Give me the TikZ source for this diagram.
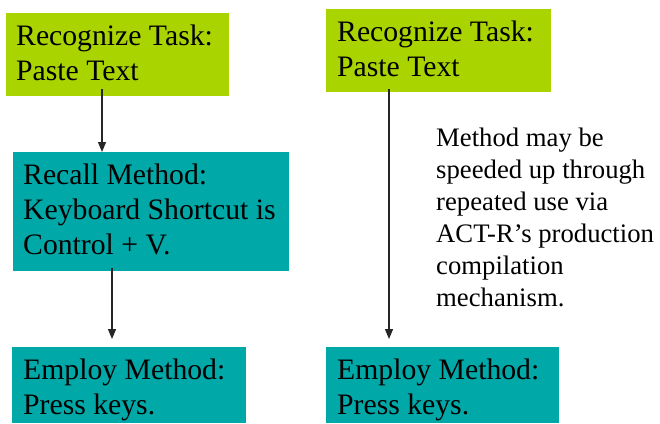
\documentclass[tikz,border=0pt]{standalone}
\usepackage{fontspec}
\setmainfont{Liberation Serif}
\newfontfamily\boxfont{Liberation Serif}
\usetikzlibrary{arrows.meta}
\definecolor{taskgreen}{RGB}{170,212,0}
\definecolor{methodteal}{RGB}{0,168,168}
\begin{document}
\begin{tikzpicture}[x=1pt,y=1pt,
				box/.style={anchor=north west,inner sep=0,outer sep=0},
				task/.style={box,fill=taskgreen},
				method/.style={box,fill=methodteal},
				txt/.style={anchor=north west,inner sep=0,align=left,font=\boxfont\fontsize{29.7}{35}\selectfont},
				note/.style={anchor=north west,inner sep=0,align=left,font=\boxfont\fontsize{26.7}{32}\selectfont},
				arr/.style={draw=black!85,line width=1.2pt,-{Triangle[length=10pt,width=8pt]}}]
\useasboundingbox (0,0) rectangle (660,-423);
\node[task,minimum width=223,minimum height=83] (rec1) at (6,-13) {};
\node[method,minimum width=276,minimum height=119] (recall) at (13,-152) {};
\node[method,minimum width=234,minimum height=76] (empL) at (12,-347) {};
\node[task,minimum width=225,minimum height=83] (rec2) at (326,-9) {};
\node[method,minimum width=233,minimum height=76] (empR) at (326,-347) {};
\node[txt] (rec1t) at (16,-21) {\rule{0pt}{24pt}Recognize Task:\\Paste Text};
\node[txt] (recallt) at (23,-160) {\rule{0pt}{24pt}Recall Method:\\Keyboard Shortcut is\\Control + V.};
\node[txt] (empLt) at (23,-355) {\rule{0pt}{24pt}Employ Method:\\Press keys.};
\node[txt] (rec2t) at (337,-17) {\rule{0pt}{24pt}Recognize Task:\\Paste Text};
\node[txt] (empRt) at (337,-355) {\rule{0pt}{24pt}Employ Method:\\Press keys.};
\node[note] (compile) at (436,-124) {\rule{0pt}{22pt}Method may be\\speeded up through\\repeated use via\\ACT-R’s production\\compilation\\mechanism.};
\coordinate (a1) at (102,-89);
\coordinate (a2) at (112,-268);
\coordinate (a3) at (389,-89);
\draw[arr] (a1) -- (a1 |- recall.north);
\draw[arr,shorten >=8pt] (a2) -- (a2 |- empL.north);
\draw[arr,shorten >=8pt] (a3) -- (a3 |- empR.north);
\end{tikzpicture}
\end{document}
